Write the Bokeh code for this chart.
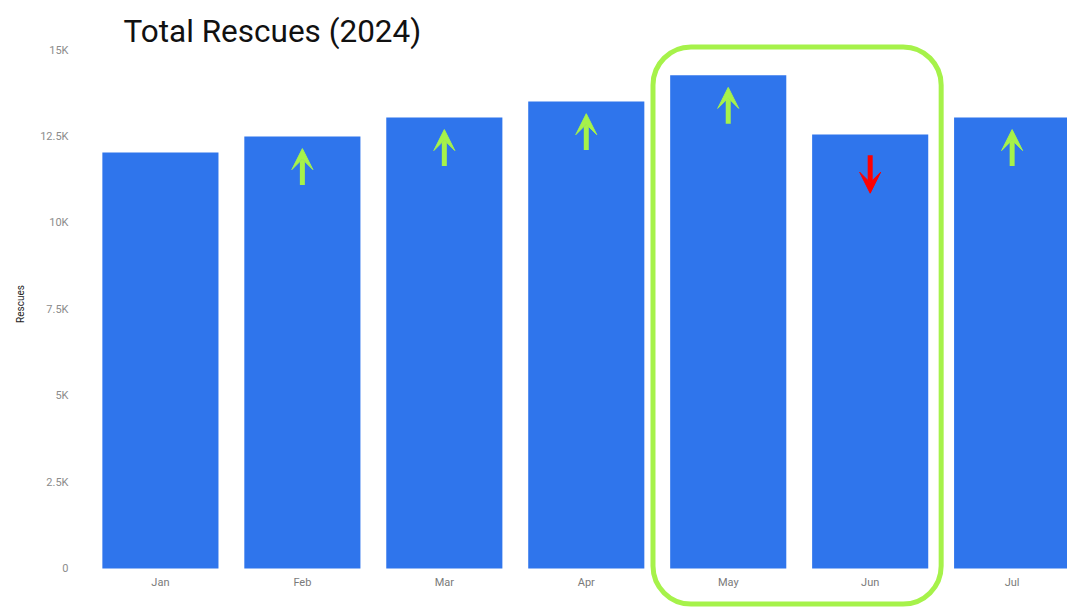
from bokeh.plotting import figure
from bokeh.models import (Range1d, FixedTicker, BoxAnnotation, Arrow, VeeHead,
                          ColumnDataSource, Label)
from bokeh.core.properties import value
from bokeh.embed import file_html
from bokeh.resources import INLINE

# ---- data ----
months = ["Jan", "Feb", "Mar", "Apr", "May", "Jun", "Jul"]
rescues = [12040, 12500, 13050, 13510, 14270, 12560, 13050]
y_ticks = [0, 2500, 5000, 7500, 10000, 12500, 15000]
y_tick_labels = ["0", "2.5K", "5K", "7.5K", "10K", "12.5K", "15K"]
highlight = ["May", "Jun"]
title_text = "Total Rescues (2024)"

BAR = "#2f75ec"
GREEN = "#a6f24a"
RED = "#ff0000"

xs = list(range(len(months)))

p = figure(width=1067, height=607, output_backend="svg", toolbar_location=None,
           x_range=Range1d(-0.563, 6.39), y_range=Range1d(-1128, 16435),
           min_border_left=80, min_border_right=0, min_border_top=0,
           min_border_bottom=0)
p.outline_line_color = None
p.xaxis.visible = False
p.xgrid.grid_line_color = None
p.ygrid.grid_line_color = None

yax = p.yaxis[0]
yax.ticker = FixedTicker(ticks=y_ticks)
yax.major_label_overrides = {t: l for t, l in zip(y_ticks, y_tick_labels)}
yax.axis_line_color = None
yax.major_tick_line_color = None
yax.minor_tick_line_color = None
yax.major_tick_out = 0
yax.major_label_standoff = 12
yax.major_label_text_color = "#8c8c8c"
yax.major_label_text_font = "Roboto"
yax.major_label_text_font_size = "11px"
yax.axis_label = "Rescues"
yax.axis_label_text_font = "Roboto"
yax.axis_label_text_font_size = "10px"
yax.axis_label_text_font_style = "normal"
yax.axis_label_text_color = "#222222"
yax.axis_label_standoff = 11

src = ColumnDataSource(dict(x=xs, top=rescues, m=months,
                            ly=[-400] * len(months)))
p.vbar(x="x", top="top", bottom=0, width=0.818, source=src,
       fill_color=BAR, line_color=None)

# month labels
p.text(x="x", y="ly", text="m", source=src, text_align="center",
       text_baseline="middle", text_font=value("Roboto"),
       text_font_size="11px", text_color="#7a7a7a")

# change arrows
up = dict(xs=[], ys=[], ye=[])
dn = dict(xs=[], ys=[], ye=[])
for i in range(1, len(rescues)):
    if rescues[i] >= rescues[i - 1]:
        up["xs"].append(xs[i]); up["ys"].append(rescues[i] - 1400); up["ye"].append(rescues[i] - 350)
    else:
        dn["xs"].append(xs[i]); dn["ys"].append(rescues[i] - 600); dn["ye"].append(rescues[i] - 1700)

for d, c in ((up, GREEN), (dn, RED)):
    s = ColumnDataSource(d)
    p.add_layout(Arrow(end=VeeHead(size=21, fill_color=c, line_color=c, line_width=1),
                       x_start="xs", y_start="ys", x_end="xs", y_end="ye",
                       line_color=c, line_width=5, source=s))

# highlight box
i0 = months.index(highlight[0]); i1 = months.index(highlight[-1])
p.add_layout(BoxAnnotation(left=i0 - 0.53, right=i1 + 0.50, top=15090, bottom=-1030,
                           fill_alpha=0, line_color=GREEN, line_alpha=1.0,
                           line_width=5, border_radius=38))

# title
p.add_layout(Label(x=-0.26, y=15540, text=title_text, text_font="Roboto",
                   text_font_size="31.5px", text_color="#111111",
                   text_baseline="alphabetic"))

open("out.html", "w").write(file_html(p, INLINE))
